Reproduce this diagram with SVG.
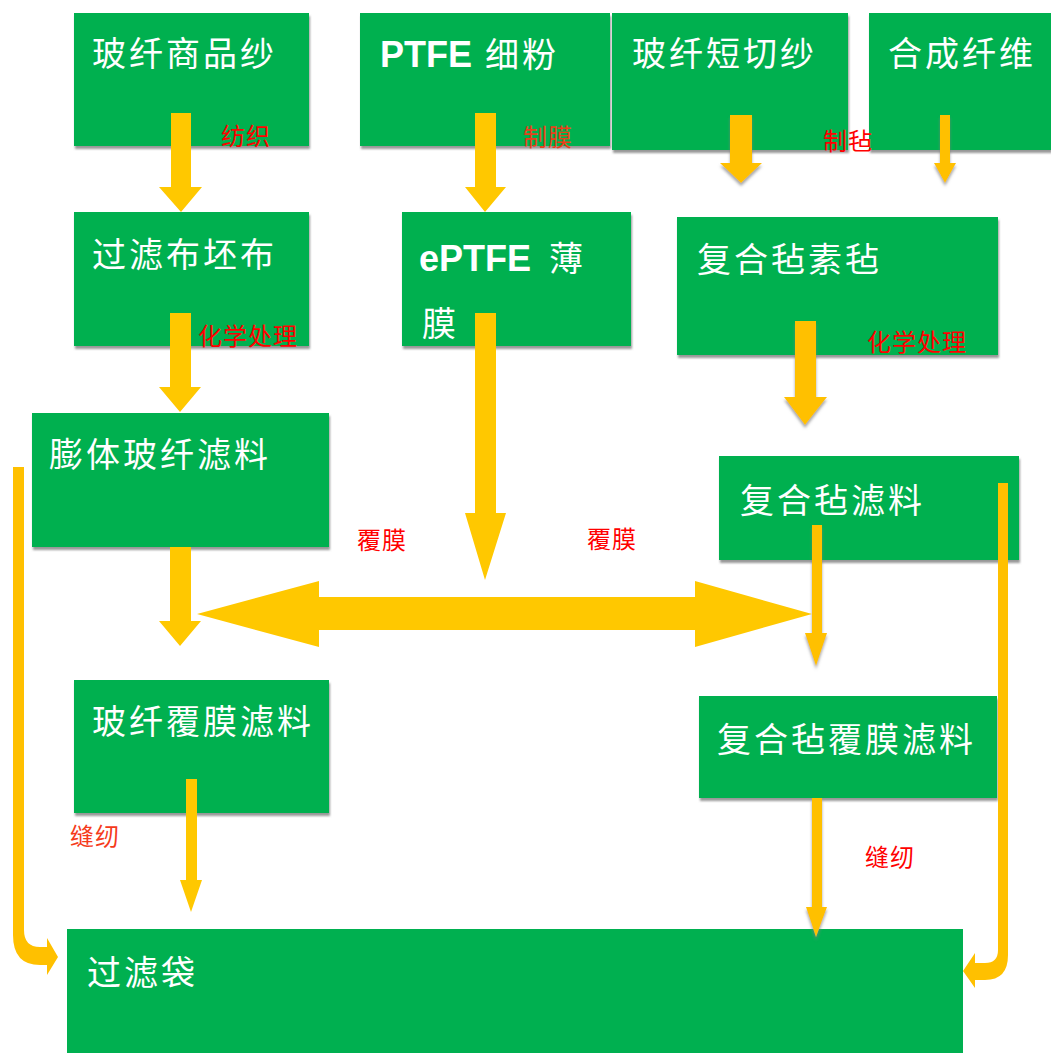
<svg xmlns="http://www.w3.org/2000/svg" width="1051" height="1053" viewBox="0 0 1051 1053">
<defs>
<filter id="sh" x="-5%" y="-5%" width="115%" height="120%">
<feDropShadow dx="1" dy="3" stdDeviation="1" flood-color="#7f7f7f" flood-opacity="0.8"/>
</filter>
<filter id="ash" x="-20%" y="-10%" width="140%" height="130%">
<feDropShadow dx="0" dy="3" stdDeviation="1.5" flood-color="#7f7f7f" flood-opacity="0.7"/>
</filter>
<style>
.box{fill:#00B050}
.t{font-family:"Noto Sans CJK SC","Liberation Sans",sans-serif;font-size:34px;fill:#fff;letter-spacing:3px}
.b{font-family:"Liberation Sans","Noto Sans CJK SC",sans-serif;font-weight:bold;font-size:36px;letter-spacing:0}
.l{font-family:"Noto Sans CJK SC","Liberation Sans",sans-serif;font-size:24px;fill:#FF0000;letter-spacing:1px}
.y1{fill:#FFC800}
.y2{fill:#FFC000}
</style>
</defs>
<rect width="1051" height="1053" fill="#fff"/>

<g id="n1" filter="url(#sh)"><rect class="box" x="74" y="13" width="235" height="133"/></g>
<g id="n2" filter="url(#sh)"><rect class="box" x="360" y="13" width="250" height="133"/></g>
<g id="n3" filter="url(#sh)"><rect class="box" x="612" y="13" width="236" height="137"/></g>
<g id="n4" filter="url(#sh)"><rect class="box" x="869" y="13" width="182" height="137"/></g>
<g id="n5" filter="url(#sh)"><rect class="box" x="74" y="212" width="235" height="134"/></g>
<g id="n6" filter="url(#sh)"><rect class="box" x="402" y="212" width="229" height="134"/></g>
<g id="n7" filter="url(#sh)"><rect class="box" x="677" y="217" width="321" height="138"/></g>
<g id="n8" filter="url(#sh)"><rect class="box" x="32" y="413" width="297" height="134"/></g>
<g id="n9" filter="url(#sh)"><rect class="box" x="719" y="456" width="300" height="104"/></g>
<g id="n10" filter="url(#sh)"><rect class="box" x="74" y="680" width="255" height="133"/></g>
<g id="n11" filter="url(#sh)"><rect class="box" x="699" y="696" width="298" height="102"/></g>
<g id="n12"><rect class="box" x="67" y="929" width="896" height="124"/></g>

<g id="labels-nodes">
<text class="t" x="92" y="66">玻纤商品纱</text>
<text class="t" x="380" y="67"><tspan class="b">PTFE</tspan> <tspan x="485">细粉</tspan></text>
<text class="t" x="632" y="66">玻纤短切纱</text>
<text class="t" x="888" y="66">合成纤维</text>
<text class="t" x="92" y="267">过滤布坯布</text>
<text class="t" x="419" y="271"><tspan class="b">ePTFE</tspan> <tspan x="549">薄</tspan></text>
<text class="t" x="422" y="336">膜</text>
<text class="t" x="697" y="272">复合毡素毡</text>
<text class="t" x="49" y="467">膨体玻纤滤料</text>
<text class="t" x="740" y="513">复合毡滤料</text>
<text class="t" x="92" y="734">玻纤覆膜滤料</text>
<text class="t" x="717" y="752">复合毡覆膜滤料</text>
<text class="t" x="87" y="985">过滤袋</text>
</g>

<g id="connectors">
<polygon class="y1" points="171,113 191,113 191,187 202,187 181,212 159,187 171,187"/>
<polygon class="y1" points="475,113 496,113 496,187 506,187 485,212 465,187 475,187"/>
<polygon class="y2" filter="url(#ash)" points="730,115 752,115 752,163 762,163 741,183 720,163 730,163"/>
<polygon class="y2" filter="url(#ash)" points="940,115 950,115 950,163 956,163 945,183 934,163 940,163"/>
<polygon class="y1" points="170,313 191,313 191,387 201,387 180,412 159,387 170,387"/>
<polygon class="y1" points="475,313 496,313 496,513 506,513 485,580 465,513 475,513"/>
<polygon class="y2" filter="url(#ash)" points="795,321 816,321 816,397 827,397 805,425 784,397 795,397"/>
<polygon class="y1" points="170,547 191,547 191,621 201,621 180,646 159,621 170,621"/>
<polygon class="y1" points="197,614 319,581 319,597 695,597 695,581 812,614 695,647 695,630 319,630 319,647"/>
<polygon class="y2" filter="url(#ash)" points="812,525 822,525 822,633 827,633 816,666 805,633 812,633"/>
<polygon class="y1" points="186,779 197,779 197,880 202,880 191,912 180,880 186,880"/>
<polygon class="y2" filter="url(#ash)" points="812,798 822,798 822,907 827,907 816,937 806,907 812,907"/>
<path class="y2" d="M13,467 H24 V930 Q24,947 40,947 H47 V938 L58,957 L47,975 V965 H40 Q13,965 13,935 Z"/>
<path class="y2" d="M1008,483 H998 V950 Q998,963 985,963 H975 V953 L963,971 L975,988 V980 H985 Q1008,980 1008,955 Z"/>
</g>

<g id="edge-labels">
<text class="l" x="221" y="145">纺织</text>
<text class="l" x="523" y="146" style="fill:#E8401A">制膜</text>
<text class="l" x="823" y="150">制毡</text>
<text class="l" x="198" y="345">化学处理</text>
<text class="l" x="867" y="351">化学处理</text>
<text class="l" x="357" y="549">覆膜</text>
<text class="l" x="587" y="548">覆膜</text>
<text class="l" x="70" y="845" style="fill:#F53A1A">缝纫</text>
<text class="l" x="865" y="866">缝纫</text>
</g>
</svg>
